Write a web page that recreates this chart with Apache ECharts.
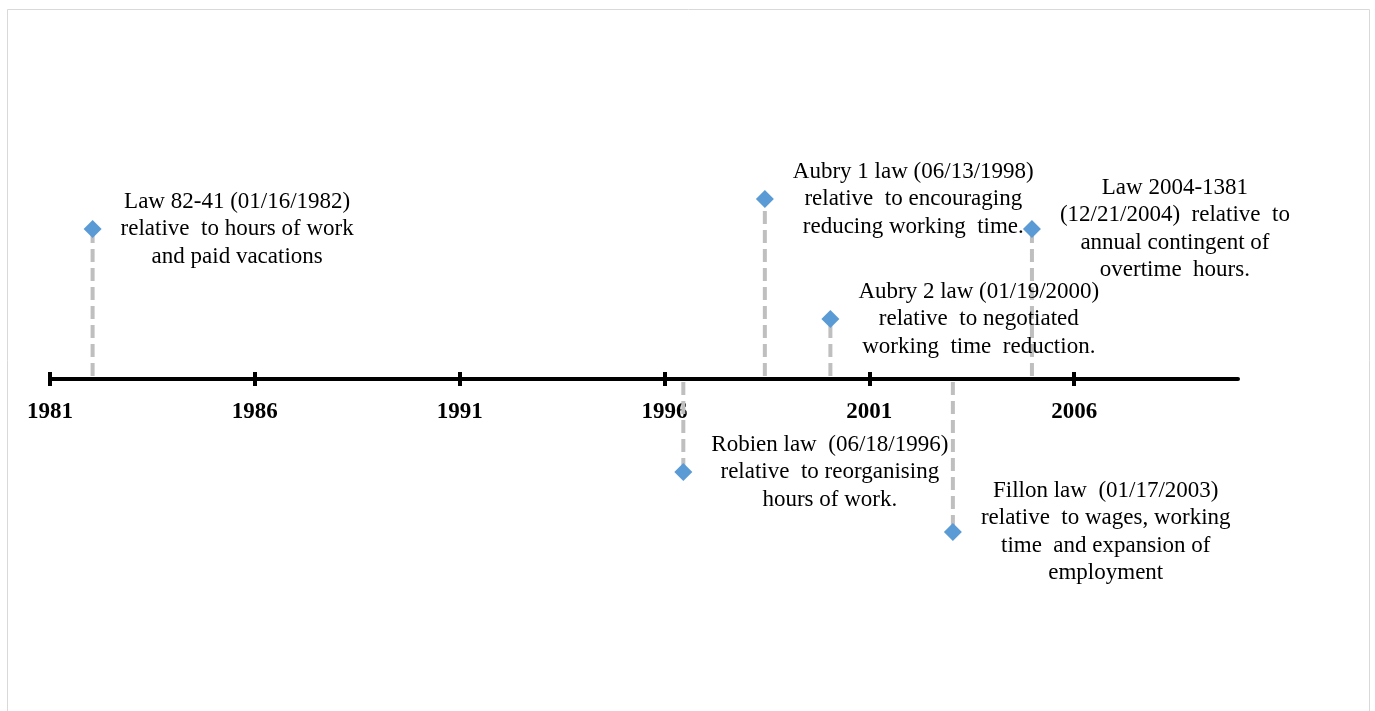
<!DOCTYPE html>
<html>
<head>
<meta charset="utf-8">
<script src="https://cdn.jsdelivr.net/npm/echarts@6/dist/echarts.min.js"></script>
<style>
html,body{margin:0;padding:0;background:#fff;}
#chart{width:1375px;height:711px;}
</style>
</head>
<body>
<div id="chart"></div>
<script>
// ---- data ----
var years = [1982.04, 1996.46, 1998.45, 2000.05, 2003.04, 2004.97];
var heights = [5, -3.1, 6, 2, -5.1, 5];
var labels = [
  ['Law 82-41 (01/16/1982)', 'relative  to hours of work', 'and paid vacations'],
  ['Robien law  (06/18/1996)', 'relative  to reorganising', 'hours of work.'],
  ['Aubry 1 law (06/13/1998)', 'relative  to encouraging', 'reducing working  time.'],
  ['Aubry 2 law (01/19/2000)', 'relative  to negotiated', 'working  time  reduction.'],
  ['Fillon law  (01/17/2003)', 'relative  to wages, working', 'time  and expansion of', 'employment'],
  ['Law 2004-1381', '(12/21/2004)  relative  to', 'annual contingent of', 'overtime  hours.']
];
var tickYears = [1981, 1986, 1991, 1996, 2001, 2006];
var axisMin = 1981, axisMax = 2010;

// ---- style ----
var FONT = '"Liberation Serif", "Times New Roman", serif';
var LABEL_SIZE = 23;
var cv = document.createElement('canvas').getContext('2d');
cv.font = LABEL_SIZE + 'px ' + FONT;
function blockWidth(lines){
  var m = 0;
  lines.forEach(function(l){ m = Math.max(m, cv.measureText(l).width); });
  return m;
}
var GAP = 28;

var points = years.map(function(y, i){
  return {
    value: [y, heights[i]],
    label: { offset: [GAP + blockWidth(labels[i]) / 2, 0] }
  };
});

var chart = echarts.init(document.getElementById('chart'), null, {renderer: 'canvas'});
var tickStyle = {color: '#000', width: 4};
var option = {
  animation: false,
  backgroundColor: '#ffffff',
  graphic: [{
    type: 'rect',
    shape: {x: 7.5, y: 9.5, width: 1362, height: 712},
    style: {fill: 'none', stroke: '#d9d9d9', lineWidth: 1},
    silent: true
  }],
  // grid bottom edge is the timeline (value 0); values below 0 are drawn unclipped
  grid: {left: 50, right: 137, top: 79, bottom: 332},
  xAxis: [{
    type: 'value', min: axisMin, max: axisMax, interval: 5,
    position: 'bottom', offset: 0,
    axisLine: {show: true, onZero: false, lineStyle: {color: '#000', width: 4}},
    axisTick: {show: true, inside: false, length: 7, lineStyle: tickStyle, customValues: tickYears},
    axisLabel: {
      show: true, margin: 22, customValues: tickYears,
      fontFamily: FONT, fontWeight: 'bold', fontSize: 23, color: '#000',
      formatter: function(v){ return String(v); }
    },
    splitLine: {show: false}
  }, {
    type: 'value', min: axisMin, max: axisMax, interval: 5,
    position: 'bottom', offset: 0,
    axisLine: {show: false, onZero: false},
    axisTick: {show: true, inside: true, length: 7, lineStyle: tickStyle, customValues: tickYears},
    axisLabel: {show: false},
    splitLine: {show: false}
  }],
  yAxis: {
    type: 'value', min: 0, max: 10, show: false,
    splitLine: {show: false}
  },
  series: [{
    type: 'custom',
    xAxisIndex: 0,
    clip: false,
    z: 1,
    data: years.map(function(y, i){ return [y, heights[i]]; }),
    renderItem: function(params, api){
      var x = api.value(0), h = api.value(1);
      var p0 = api.coord([x, 0]);
      var p1 = api.coord([x, h]);
      var dir = h > 0 ? -1 : 1;
      return {
        type: 'line',
        shape: {x1: p0[0], y1: p0[1] + dir * 3, x2: p1[0], y2: p1[1]},
        style: {stroke: '#bfbfbf', lineWidth: 4, lineDash: [13, 6]}
      };
    }
  }, {
    type: 'scatter',
    xAxisIndex: 0,
    clip: false,
    z: 3,
    symbol: 'diamond',
    symbolSize: [18, 18],
    itemStyle: {color: '#5b9bd5', opacity: 1},
    data: points,
    label: {
      show: true,
      position: 'inside',
      align: 'center',
      verticalAlign: 'middle',
      fontFamily: FONT,
      fontSize: LABEL_SIZE,
      lineHeight: 27.5,
      color: '#000',
      opacity: 1,
      textBorderWidth: 0,
      formatter: function(p){ return labels[p.dataIndex].join('\n'); }
    }
  }]
};
chart.setOption(option);
</script>
</body>
</html>
